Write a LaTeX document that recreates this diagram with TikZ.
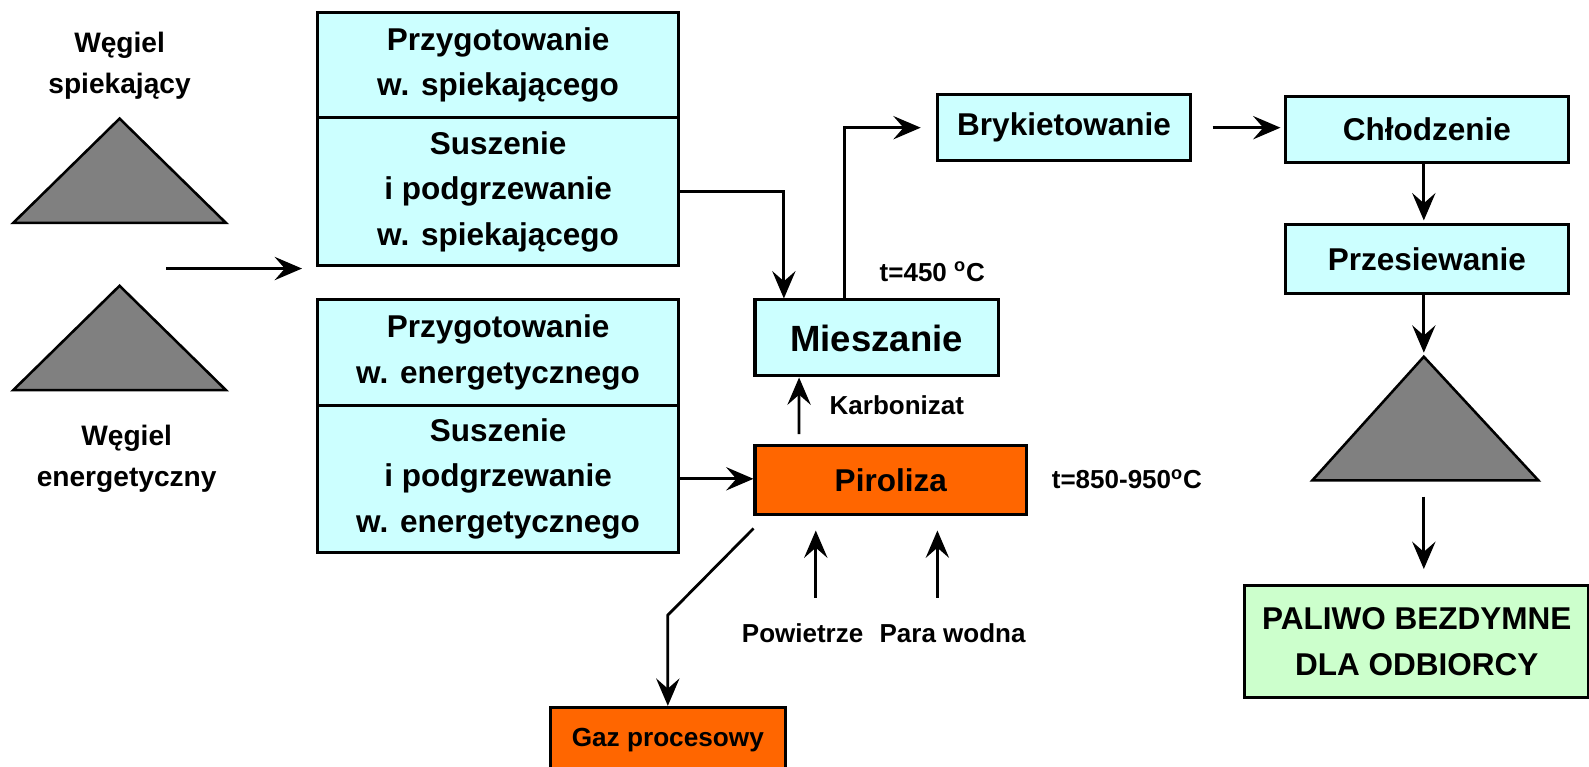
\documentclass[tikz,border=0pt]{standalone}
\usepackage{fontspec}
\setmainfont{Liberation Sans}
\usetikzlibrary{arrows.meta,positioning}
\definecolor{stagecyan}{RGB}{204,255,255}
\definecolor{stageorange}{RGB}{255,102,0}
\definecolor{stagegreen}{RGB}{204,255,204}
\definecolor{heapgray}{RGB}{128,128,128}
\begin{document}
\begin{tikzpicture}[x=0.02cm,y=-0.02cm,
  stage/.style={draw,line width=0.06cm,fill=stagecyan,inner sep=0pt,align=center,
    font=\fontsize{17.7}{25.6}\selectfont\bfseries},
  hot/.style={stage,fill=stageorange},
  product/.style={stage,fill=stagegreen},
  label/.style={font=\fontsize{14.6}{20}\selectfont\bfseries,align=center,inner sep=0pt},
  coal/.style={font=\fontsize{15.8}{22.8}\selectfont\bfseries,align=center,inner sep=0pt},
  heap/.style={draw,line width=0.05cm,fill=heapgray},
  flow/.style={line width=0.055cm,-{Stealth[length=0.54cm,width=0.46cm,inset=0.2cm]}}
]
  \useasboundingbox (0,0) rectangle (1568,756);

  % Coal heaps
  \node[coal] (coalA) at (118,65) {Węgiel\\spiekający};
  \draw[heap] (118,117) -- (13,220) -- (223,220) -- cycle;
  \draw[heap] (118,282) -- (13,385) -- (223,385) -- cycle;
  \node[coal] (coalB) at (125,453) {Węgiel\\energetyczny};

  % Preparation blocks
  \node[stage,minimum width=7.14cm,minimum height=2.08cm] (prepA) at (491.5,64) {Przygotowanie\\w. spiekającego};
  \node[stage,minimum width=7.14cm,minimum height=2.92cm] (dryA) at (491.5,189) {Suszenie\\i podgrzewanie\\w. spiekającego};
  \node[stage,minimum width=7.14cm,minimum height=2.08cm] (prepB) at (491.5,348) {Przygotowanie\\w. energetycznego};
  \node[stage,minimum width=7.14cm,minimum height=2.90cm] (dryB) at (491.5,472.5) {Suszenie\\i podgrzewanie\\w. energetycznego};

  % Process line
  \node[stage,minimum width=4.8cm,minimum height=1.5cm,font=\fontsize{20.5}{25}\selectfont\bfseries] (mix) at (865,333.5) {Mieszanie};
  \node[hot,minimum width=5.36cm,minimum height=1.36cm] (pyro) at (879,474) {Piroliza};
  \node[hot,minimum width=4.64cm,minimum height=1.28cm,font=\fontsize{14.7}{20}\selectfont\bfseries] (gas) at (659,730) {Gaz procesowy};
  \node[stage,minimum width=5cm,minimum height=1.3cm] (brick) at (1050,126) {Brykietowanie};
  \node[stage,minimum width=5.6cm,minimum height=1.3cm] (cool) at (1408,127.5) {Chłodzenie};
  \node[stage,minimum width=5.6cm,minimum height=1.36cm] (sieve) at (1408,256) {Przesiewanie};
  \node[product,minimum width=6.8cm,minimum height=2.2cm] (fuel) at (1398,633) {PALIWO BEZDYMNE\\DLA ODBIORCY};

  % Product heap
  \coordinate (heapC) at (1405,352);
  \draw[heap] (heapC) -- (1295,474) -- (1518,474) -- cycle;
  \coordinate (heapCout) at (1405,490);

  % Labels
  \node[label] (tmix) at (920,268) {t=450 \textsuperscript{o}C};
  \node[label] (tpyro) at (1112,473) {t=850-950\textsuperscript{o}C};
  \node[label] (char) at (885,400) {Karbonizat};
  \node[label] (air) at (792,625) {Powietrze};
  \node[label] (steam) at (940,625) {Para wodna};

  % Connectors
  \coordinate (feedA) at (164,265);
  \coordinate (feedB) at (298,265);
  \draw[flow] (feedA) -- (feedB);
  \draw[flow] (dryA.east) -| ([xshift=0.6cm]mix.north west);
  \draw[flow] ([xshift=1.8cm]mix.north west) |- ([xshift=-0.3cm]brick.west);
  \draw[flow] ([xshift=0.4cm]brick.east) -- ([xshift=-0.06cm]brick.east -| cool.west);
  \draw[flow,shorten >=0.06cm] (cool.south -| heapC) -- (sieve.north -| heapC);
  \draw[flow,shorten >=0.08cm] (sieve.south -| heapC) -- (heapC);
  \draw[flow,shorten >=0.3cm] (heapCout) -- (heapCout |- fuel.north);
  \draw[flow] (dryB.east) -- (dryB.east -| pyro.west);
  \draw[flow] ([shift={(0.9cm,0.2cm)}]pyro.north west) -- ([xshift=0.9cm]mix.south west);
  \coordinate (gasbend) at (659,607);
  \draw[flow] ([yshift=-0.24cm]pyro.south west) -- (gasbend) -- (gas.north);
  \coordinate (airin) at (805,590);
  \coordinate (steamin) at (925,590);
  \draw[flow,shorten >=0.28cm] (airin) -- (airin |- pyro.south);
  \draw[flow,shorten >=0.28cm] (steamin) -- (steamin |- pyro.south);
\end{tikzpicture}
\end{document}
